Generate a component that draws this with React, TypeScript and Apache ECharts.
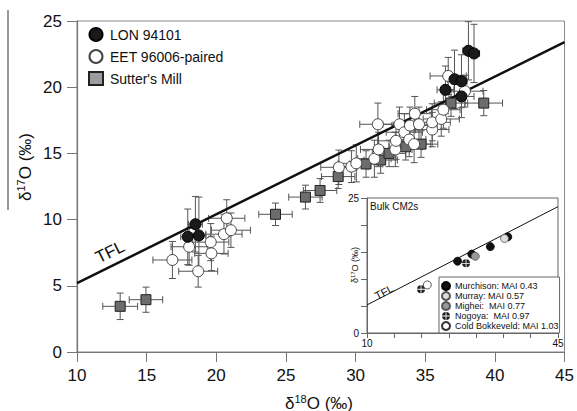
import React, { useEffect, useRef } from "react";
import * as echarts from "echarts";

// [δ18O, δ17O, xErr, yErr]
const LON = [
  [17.95, 8.7, 0.5, 2.1],
  [18.5, 9.65, 0.5, 2.1],
  [18.75, 8.8, 0.5, 2.9],
  [36.45, 19.8, 0.6, 1.8],
  [37.1, 20.6, 0.5, 2.2],
  [37.6, 20.45, 0.4, 2.0],
  [37.6, 19.3, 0.9, 1.6],
  [38.1, 22.75, 0.4, 2.2],
  [38.5, 22.55, 0.4, 2.2],
];
const EET = [
  [16.85, 6.95, 1.4, 1.4],
  [18.05, 7.95, 1.3, 1.4],
  [18.7, 6.1, 1.4, 1.2],
  [19.6, 8.3, 1.3, 1.4],
  [19.65, 7.45, 1.2, 1.3],
  [20.55, 8.9, 1.3, 1.5],
  [20.75, 10.1, 1.3, 1.4],
  [21.05, 9.2, 1.4, 1.3],
  [28.8, 13.95, 1.3, 1.3],
  [29.7, 14.0, 1.2, 1.2],
  [30.05, 14.25, 1.3, 1.4],
  [31.35, 14.6, 1.2, 1.4],
  [31.65, 15.3, 1.3, 1.3],
  [31.6, 17.2, 1.3, 1.6],
  [32.85, 15.3, 1.2, 1.3],
  [32.9, 15.95, 1.3, 1.4],
  [33.15, 17.2, 1.2, 1.3],
  [33.5, 16.6, 1.3, 1.4],
  [33.85, 16.05, 1.2, 1.3],
  [33.9, 17.1, 1.3, 1.4],
  [34.25, 18.0, 1.2, 1.3],
  [34.55, 17.2, 1.3, 1.3],
  [34.2, 15.7, 1.2, 1.4],
  [35.5, 16.8, 1.2, 1.3],
  [35.5, 17.35, 1.3, 1.4],
  [36.15, 17.6, 1.3, 1.3],
  [36.3, 18.3, 1.2, 1.4],
  [36.65, 20.85, 1.3, 1.4],
  [37.85, 19.7, 1.3, 1.2],
];
const SM = [
  [13.1, 3.45, 1.25, 1.0],
  [14.95, 3.95, 1.2, 0.95],
  [24.25, 10.4, 1.2, 0.85],
  [26.4, 11.7, 1.2, 0.9],
  [27.45, 12.2, 1.2, 0.9],
  [28.75, 13.25, 1.2, 0.9],
  [30.75, 14.2, 1.2, 1.0],
  [31.8, 14.5, 1.2, 1.0],
  [32.4, 15.0, 1.2, 1.0],
  [33.6, 15.5, 1.2, 1.0],
  [34.7, 15.7, 1.2, 1.0],
  [36.85, 18.8, 1.2, 1.0],
  [39.2, 18.8, 1.35, 0.95],
];
const TFL_X = [10, 45];
const TFL_Y = [5.2, 23.4];

// inset: Bulk CM2s
const MURCHISON = [[26.6, 13.3], [29.2, 14.6], [32.6, 16.0], [35.8, 17.8]];
const MURRAY = [[35.2, 17.5]];
const MIGHEI = [[29.85, 14.2]];
const NOGOYA = [[19.9, 8.1], [28.15, 12.9]];
const COLD_BOKKEVELD = [[21.05, 8.9]];

const X_TICKS = [10, 15, 20, 25, 30, 35, 40, 45];
const Y_TICKS = [0, 5, 10, 15, 20, 25];

const FONT = "Liberation Sans, Arial, Helvetica, sans-serif";
const NOGOYA_SYMBOL =
  "path://M11 9L11 0.05A10 10 0 0 1 19.95 9ZM9 9L0.05 9A10 10 0 0 1 9 0.05ZM9 11L9 19.95A10 10 0 0 1 0.05 11ZM11 11L19.95 11A10 10 0 0 1 11 19.95Z";

function errRender(params: any, api: any) {
  const x = api.value(0), y = api.value(1), ex = api.value(2), ey = api.value(3);
  const l = api.coord([x - ex, y]);
  const r = api.coord([x + ex, y]);
  const t = api.coord([x, y + ey]);
  const b = api.coord([x, y - ey]);
  const c = 3.5;
  const style = { stroke: "#555", lineWidth: 1, fill: "none" };
  return {
    type: "group",
    children: [
      { type: "line", shape: { x1: l[0], y1: l[1], x2: r[0], y2: r[1] }, style },
      { type: "line", shape: { x1: l[0], y1: l[1] - c, x2: l[0], y2: l[1] + c }, style },
      { type: "line", shape: { x1: r[0], y1: r[1] - c, x2: r[0], y2: r[1] + c }, style },
      { type: "line", shape: { x1: t[0], y1: t[1], x2: b[0], y2: b[1] }, style },
      { type: "line", shape: { x1: t[0] - c, y1: t[1], x2: t[0] + c, y2: t[1] }, style },
      { type: "line", shape: { x1: b[0] - c, y1: b[1], x2: b[0] + c, y2: b[1] }, style },
    ],
  };
}

function errSeries(name: string, data: number[][]) {
  return {
    type: "custom",
    name,
    xAxisIndex: 0,
    yAxisIndex: 0,
    renderItem: errRender,
    data,
    encode: { x: 0, y: 1 },
    z: 2,
    silent: true,
  };
}

export default function App() {
  const ref = useRef<HTMLDivElement>(null);
  useEffect(() => {
    const chart = echarts.init(ref.current!, null, { renderer: "svg" });
    const axisLine = { show: true, lineStyle: { color: "#777", width: 1.2 } };
    const option: any = {
      animation: false,
      backgroundColor: "#fff",
      textStyle: { fontFamily: FONT },
      grid: [
        { left: 77, right: 10, top: 21, bottom: 59, show: true, borderColor: "#888", borderWidth: 1 },
        { left: 367, right: 19, top: 198, bottom: 78, show: true, backgroundColor: "#fff", borderColor: "#666", borderWidth: 1, z: 10 },
      ],
      xAxis: [
        {
          type: "value", gridIndex: 0, min: X_TICKS[0], max: X_TICKS[X_TICKS.length - 1], interval: 5,
          axisLine, axisTick: { show: true, length: 10, lineStyle: { color: "#777" } },
          axisLabel: { fontSize: 17, color: "#111", margin: 15, fontFamily: FONT },
          splitLine: { show: false },
        },
        {
          type: "value", gridIndex: 1, min: 10, max: 45, interval: 5, z: 11,
          axisLine: { show: true, lineStyle: { color: "#666", width: 1 } },
          axisTick: { show: true, length: 5, lineStyle: { color: "#666" } },
          axisLabel: { fontSize: 10, color: "#111", margin: 5, fontFamily: FONT, formatter: (v: number) => (v === 10 || v === 45 ? String(v) : "") },
          splitLine: { show: false },
        },
      ],
      yAxis: [
        {
          type: "value", gridIndex: 0, min: Y_TICKS[0], max: Y_TICKS[Y_TICKS.length - 1], interval: 5,
          axisLine, axisTick: { show: true, length: 10, lineStyle: { color: "#777" } },
          axisLabel: { fontSize: 17, color: "#111", margin: 15, fontFamily: FONT },
          splitLine: { show: false },
        },
        {
          type: "value", gridIndex: 1, min: 0, max: 25, interval: 5, z: 11,
          axisLine: { show: true, lineStyle: { color: "#666", width: 1 } },
          axisTick: { show: true, length: 6, lineStyle: { color: "#666" } },
          axisLabel: { fontSize: 10, color: "#111", margin: 8, fontFamily: FONT, formatter: (v: number) => (v === 0 || v === 25 ? String(v) : "") },
          splitLine: { show: false },
        },
      ],
      legend: [
        {
          orient: "vertical", left: 88, top: 27, padding: 0, itemGap: 7, itemWidth: 14, itemHeight: 13,
          textStyle: { fontSize: 14, color: "#111", fontFamily: FONT, padding: [0, 0, 0, 2] },
          data: [
            { name: "LON 94101" },
            { name: "EET 96006-paired" },
            { name: "Sutter's Mill", itemStyle: { color: "#9c9c9c" } },
          ],
          selectedMode: false,
        },
        {
          orient: "vertical", left: 439, top: 277, padding: [4, 1, 2, 2], itemGap: 0, itemWidth: 8, itemHeight: 8,
          borderColor: "#666", borderWidth: 1, backgroundColor: "#fff", z: 13,
          textStyle: { fontSize: 9, lineHeight: 10, color: "#111", fontFamily: FONT },
          data: [
            "Murchison: MAI 0.43",
            "Murray: MAI 0.57",
            "Mighei:  MAI 0.77",
            "Nogoya:  MAI 0.97",
            "Cold Bokkeveld: MAI 1.03",
          ],
          selectedMode: false,
        },
      ],
      series: [
        errSeries("SM err", SM),
        errSeries("EET err", EET),
        errSeries("LON err", LON),
        {
          type: "line", name: "TFL", xAxisIndex: 0, yAxisIndex: 0,
          data: TFL_X.map((x, i) => [x, TFL_Y[i]]),
          symbol: "none", lineStyle: { color: "#111", width: 2.5 }, z: 2, silent: true,
        },
        {
          type: "scatter", name: "Sutter's Mill", xAxisIndex: 0, yAxisIndex: 0,
          data: SM.map((d) => [d[0], d[1]]), symbol: "rect", symbolSize: 10,
          itemStyle: { color: "#6c6c6c", borderColor: "#222", borderWidth: 1, opacity: 1 }, z: 3,
        },
        {
          type: "scatter", name: "EET 96006-paired", xAxisIndex: 0, yAxisIndex: 0,
          data: EET.map((d) => [d[0], d[1]]), symbol: "circle", symbolSize: 11,
          itemStyle: { color: "#fff", borderColor: "#444", borderWidth: 1, opacity: 1 }, z: 3,
        },
        {
          type: "scatter", name: "LON 94101", xAxisIndex: 0, yAxisIndex: 0,
          data: LON.map((d) => [d[0], d[1]]), symbol: "circle", symbolSize: 11,
          itemStyle: { color: "#1a1a1a", borderColor: "#000", borderWidth: 1, opacity: 1 }, z: 3,
        },
        // inset
        {
          type: "line", name: "TFL inset", xAxisIndex: 1, yAxisIndex: 1,
          data: TFL_X.map((x, i) => [x, TFL_Y[i]]),
          symbol: "none", lineStyle: { color: "#111", width: 1 }, z: 11, silent: true,
        },
        {
          type: "scatter", name: "Murchison: MAI 0.43", xAxisIndex: 1, yAxisIndex: 1, data: MURCHISON,
          symbol: "circle", symbolSize: 8, itemStyle: { color: "#111", borderColor: "#000", borderWidth: 0.8, opacity: 1 }, z: 12,
        },
        {
          type: "scatter", name: "Murray: MAI 0.57", xAxisIndex: 1, yAxisIndex: 1, data: MURRAY,
          symbol: "circle", symbolSize: 8, itemStyle: { color: "#ddd", borderColor: "#555", borderWidth: 0.8, opacity: 1 }, z: 12,
        },
        {
          type: "scatter", name: "Mighei:  MAI 0.77", xAxisIndex: 1, yAxisIndex: 1, data: MIGHEI,
          symbol: "circle", symbolSize: 8, itemStyle: { color: "#999", borderColor: "#555", borderWidth: 0.8, opacity: 1 }, z: 12,
        },
        {
          type: "scatter", name: "Nogoya:  MAI 0.97", xAxisIndex: 1, yAxisIndex: 1, data: NOGOYA,
          symbol: NOGOYA_SYMBOL, symbolSize: 8, itemStyle: { color: "#222", opacity: 1 }, z: 12,
        },
        {
          type: "scatter", name: "Cold Bokkeveld: MAI 1.03", xAxisIndex: 1, yAxisIndex: 1, data: COLD_BOKKEVELD,
          symbol: "circle", symbolSize: 8, itemStyle: { color: "#fff", borderColor: "#333", borderWidth: 0.8, opacity: 1 }, z: 12,
        },
      ],
      graphic: [
        { type: "line", shape: { x1: 8, y1: 10, x2: 8, y2: 210 }, style: { stroke: "#333", lineWidth: 1 }, z: 1 },
        {
          type: "text", x: 319, y: 403, z: 5,
          style: {
            text: "{a|δ}{s|18}{a|O (‰)}", align: "center", verticalAlign: "middle",
            rich: { a: { fontSize: 17, lineHeight: 20, fontFamily: FONT, fill: "#111" }, s: { fontSize: 11, verticalAlign: "top", fontFamily: FONT, fill: "#111" } },
          },
        },
        {
          type: "text", x: 25, y: 167, rotation: Math.PI / 2, z: 5,
          style: {
            text: "{a|δ}{s|17}{a|O (‰)}", align: "center", verticalAlign: "middle",
            rich: { a: { fontSize: 17, lineHeight: 20, fontFamily: FONT, fill: "#111" }, s: { fontSize: 11, verticalAlign: "top", fontFamily: FONT, fill: "#111" } },
          },
        },
        {
          type: "text", x: 110, y: 252, rotation: (26.3 * Math.PI) / 180, z: 5,
          style: { text: "TFL", fontSize: 17, fontFamily: FONT, fill: "#111", align: "center", verticalAlign: "middle" },
        },
        {
          type: "text", x: 370, y: 201, z: 14,
          style: { text: "Bulk CM2s", fontSize: 10, fontFamily: FONT, fill: "#111", align: "left", verticalAlign: "top" },
        },
        {
          type: "text", x: 384, y: 292, rotation: (28 * Math.PI) / 180, z: 14,
          style: { text: "TFL", fontSize: 11, fontFamily: FONT, fill: "#111", align: "center", verticalAlign: "middle" },
        },
        {
          type: "text", x: 355, y: 265, rotation: Math.PI / 2, z: 14,
          style: {
            text: "{a|δ}{s|17}{a|O (‰)}", align: "center", verticalAlign: "middle",
            rich: { a: { fontSize: 9, lineHeight: 11, fontFamily: FONT, fill: "#111" }, s: { fontSize: 6, verticalAlign: "top", fontFamily: FONT, fill: "#111" } },
          },
        },
      ],
    };
    chart.setOption(option);
    return () => chart.dispose();
  }, []);
  return (
    <div
      ref={ref}
      style={{ position: "fixed", left: 0, top: 0, width: 577, height: 411, background: "#fff" }}
    />
  );
}
